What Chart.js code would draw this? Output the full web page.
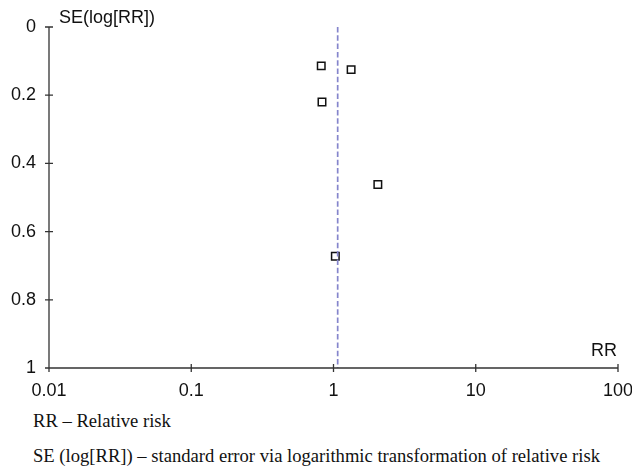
<!DOCTYPE html>
<html>
<head>
<meta charset="utf-8">
<script src="https://cdn.jsdelivr.net/npm/chart.js@4"></script>
<style>
  html, body { margin: 0; padding: 0; background: #fff; }
  #wrap { position: relative; width: 632px; height: 400px; }
  .note { position: absolute; left: 33px; font-family: 'Liberation Serif', 'Times New Roman', serif; font-size: 18.6px; line-height: 20px; color: #111; white-space: nowrap; }
</style>
</head>
<body>
<div id="wrap"><canvas id="funnel"></canvas></div>
<div class="note" style="top:411px">RR – Relative risk</div>
<div class="note" style="top:446px">SE (log[RR]) – standard error via logarithmic transformation of relative risk</div>
<script>
// Dados do funnel plot
const rrValores = [0.82, 1.33, 0.83, 2.05, 1.03];
const seValores = [0.114, 0.125, 0.220, 0.462, 0.672];
const rrCombinado = 1.07;
const xTicks = [0.01, 0.1, 1, 10, 100];
const yTicks = [0, 0.2, 0.4, 0.6, 0.8, 1];

const fonteEixo = { family: "'Liberation Sans', Arial, sans-serif", size: 18 };

// Eixos com marcas que atravessam a linha
const eixosPlugin = {
  id: 'eixos',
  afterDraw(chart) {
    const { ctx, chartArea, scales } = chart;
    const x = scales.x, y = scales.y;
    ctx.save();
    ctx.strokeStyle = '#333';
    ctx.lineWidth = 1.3;
    ctx.beginPath();
    ctx.moveTo(chartArea.left, y.getPixelForValue(0));
    ctx.lineTo(chartArea.left, y.getPixelForValue(1));
    ctx.lineTo(chartArea.right, y.getPixelForValue(1));
    yTicks.forEach(v => {
      const py = y.getPixelForValue(v);
      ctx.moveTo(chartArea.left - 4, py);
      ctx.lineTo(chartArea.left + 4, py);
    });
    xTicks.forEach(v => {
      const px = x.getPixelForValue(v);
      ctx.moveTo(px, chartArea.bottom - 4);
      ctx.lineTo(px, chartArea.bottom + 4);
    });
    ctx.stroke();
    ctx.fillStyle = '#111';
    ctx.font = "18px 'Liberation Sans', Arial, sans-serif";
    ctx.textBaseline = 'middle';
    ctx.textAlign = 'left';
    ctx.fillText('SE(log[RR])', chartArea.left + 10, chartArea.top - 9);
    ctx.textAlign = 'right';
    ctx.fillText('RR', chartArea.right - 1, chartArea.bottom - 17);
    ctx.restore();
  }
};

new Chart(document.getElementById('funnel'), {
  type: 'scatter',
  data: {
    datasets: [
      {
        type: 'line',
        data: [{ x: rrCombinado, y: 0 }, { x: rrCombinado, y: 1 }],
        borderColor: '#8585cc',
        borderWidth: 1.7,
        borderDash: [5.5, 2.8],
        pointRadius: 0,
        fill: false
      },
      {
        data: rrValores.map((rr, i) => ({ x: rr, y: seValores[i] })),
        pointStyle: 'rect',
        pointRadius: 5.3,
        pointBackgroundColor: '#fff',
        pointBorderColor: '#111',
        pointBorderWidth: 1.5
      }
    ]
  },
  options: {
    responsive: true,
    maintainAspectRatio: false,
    animation: false,
    layout: { padding: { top: 27, right: 14, left: 0, bottom: 0 } },
    plugins: { legend: { display: false }, tooltip: { enabled: false } },
    scales: {
      x: {
        type: 'logarithmic',
        min: 0.01,
        max: 100,
        afterBuildTicks: s => { s.ticks = xTicks.map(v => ({ value: v })); },
        afterFit: s => { s.height = 32; s.paddingLeft = 0; s.paddingRight = 0; },
        grid: { display: false, drawTicks: false },
        border: { display: false },
        ticks: {
          color: '#111',
          font: fonteEixo,
          padding: 12,
          maxRotation: 0,
          callback: v => String(v)
        }
      },
      y: {
        type: 'linear',
        reverse: true,
        min: 0,
        max: 1,
        afterBuildTicks: s => { s.ticks = yTicks.map(v => ({ value: v })); },
        afterFit: s => { s.width = 49; s.paddingTop = 0; s.paddingBottom = 0; },
        grid: { display: false, drawTicks: false },
        border: { display: false },
        ticks: {
          color: '#111',
          font: fonteEixo,
          padding: 13,
          callback: v => String(v)
        }
      }
    }
  },
  plugins: [eixosPlugin]
});
</script>
</body>
</html>
